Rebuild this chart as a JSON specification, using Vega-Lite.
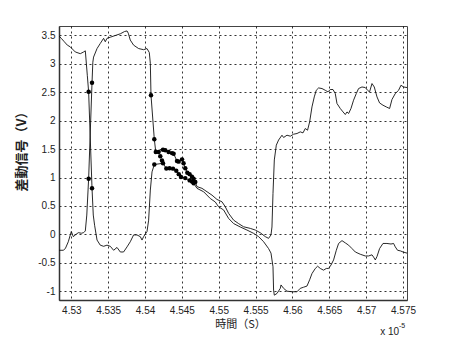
{
  "$schema": "https://vega.github.io/schema/vega-lite/v6.json",
  "width": 348,
  "height": 274,
  "autosize": {"type": "none"},
  "padding": {"left": 59, "top": 26, "right": 43, "bottom": 38},
  "background": "white",
  "config": {
    "view": {"stroke": "#444", "strokeWidth": 1},
    "axis": {
      "grid": true,
      "gridColor": "#000",
      "gridDash": [2, 3],
      "gridWidth": 1,
      "gridOpacity": 0.8,
      "domainColor": "#333",
      "domainWidth": 1.5,
      "ticks": false,
      "labelFont": "Liberation Sans",
      "labelFontSize": 10,
      "labelColor": "#222",
      "labelOverlap": false,
      "titleFont": "Noto Sans CJK JP",
      "titleFontSize": 11,
      "titleFontWeight": "normal",
      "titleColor": "#222",
      "labelExpr": "datum.value + ''"
    },
    "axisX": {
      "values": [4.53, 4.535, 4.54, 4.545, 4.55, 4.555, 4.56, 4.565, 4.57, 4.575],
      "labelPadding": 5,
      "titlePadding": 3,
      "titleX": 181
    },
    "axisY": {
      "values": [-1, -0.5, 0, 0.5, 1, 1.5, 2, 2.5, 3, 3.5],
      "labelPadding": 4,
      "titlePadding": 9,
      "titleY": 122,
      "titleFontSize": 13,
      "titleFontWeight": "bold"
    }
  },
  "datasets": {
    "lines": [
      {"s":"A","t":4.52833,"v":3.49},{"s":"A","t":4.52864,"v":3.45},{"s":"A","t":4.52905,"v":3.39},{"s":"A","t":4.52946,"v":3.33},{"s":"A","t":4.52986,"v":3.30},{"s":"A","t":4.53054,"v":3.21},{"s":"A","t":4.53122,"v":3.18},{"s":"A","t":4.53167,"v":3.21},{"s":"A","t":4.53190,"v":3.23},{"s":"A","t":4.53217,"v":2.80},{"s":"A","t":4.53235,"v":2.51},{"s":"A","t":4.53281,"v":0.81},{"s":"A","t":4.53298,"v":0.34},{"s":"A","t":4.53316,"v":0.16},{"s":"A","t":4.53349,"v":-0.10},{"s":"A","t":4.53393,"v":-0.19},{"s":"A","t":4.53438,"v":-0.21},{"s":"A","t":4.53484,"v":-0.19},{"s":"A","t":4.53529,"v":-0.21},{"s":"A","t":4.53574,"v":-0.28},{"s":"A","t":4.53620,"v":-0.23},{"s":"A","t":4.53665,"v":-0.31},{"s":"A","t":4.53709,"v":-0.31},{"s":"A","t":4.53756,"v":-0.22},{"s":"A","t":4.53800,"v":-0.13},{"s":"A","t":4.53845,"v":-0.01},{"s":"A","t":4.53891,"v":-0.01},{"s":"A","t":4.53936,"v":-0.04},{"s":"A","t":4.53959,"v":-0.10},{"s":"A","t":4.53981,"v":-0.04},{"s":"A","t":4.54027,"v":0.05},{"s":"A","t":4.54049,"v":0.25},{"s":"A","t":4.54072,"v":0.78},{"s":"A","t":4.54095,"v":1.10},{"s":"A","t":4.54126,"v":1.23},{"s":"A","t":4.54244,"v":1.25},{"s":"A","t":4.54289,"v":1.16},{"s":"A","t":4.54333,"v":1.165},{"s":"A","t":4.54380,"v":1.157},{"s":"A","t":4.54424,"v":1.12},{"s":"A","t":4.54458,"v":1.06},{"s":"A","t":4.54488,"v":1.01},{"s":"A","t":4.54546,"v":0.99},{"s":"A","t":4.54605,"v":0.95},{"s":"A","t":4.54637,"v":0.93},{"s":"A","t":4.54659,"v":0.90},{"s":"A","t":4.54705,"v":0.81},{"s":"A","t":4.54795,"v":0.75},{"s":"A","t":4.54886,"v":0.63},{"s":"A","t":4.54953,"v":0.57},{"s":"A","t":4.54998,"v":0.485},{"s":"A","t":4.55066,"v":0.43},{"s":"A","t":4.55134,"v":0.28},{"s":"A","t":4.55202,"v":0.19},{"s":"A","t":4.55292,"v":0.13},{"s":"A","t":4.55383,"v":0.076},{"s":"A","t":4.55473,"v":0.018},{"s":"A","t":4.55541,"v":-0.04},{"s":"A","t":4.55609,"v":-0.13},{"s":"A","t":4.55676,"v":-0.25},{"s":"A","t":4.55709,"v":-0.33},{"s":"A","t":4.55736,"v":-0.57},{"s":"A","t":4.55744,"v":-0.98},{"s":"A","t":4.55754,"v":-1.07},{"s":"A","t":4.55790,"v":-1.04},{"s":"A","t":4.55835,"v":-0.95},{"s":"A","t":4.55845,"v":-0.89},{"s":"A","t":4.55880,"v":-0.95},{"s":"A","t":4.55926,"v":-1.0},{"s":"A","t":4.55994,"v":-1.01},{"s":"A","t":4.56062,"v":-1.01},{"s":"A","t":4.56106,"v":-0.95},{"s":"A","t":4.56151,"v":-0.93},{"s":"A","t":4.56197,"v":-0.91},{"s":"A","t":4.56233,"v":-0.80},{"s":"A","t":4.56265,"v":-0.69},{"s":"A","t":4.56310,"v":-0.60},{"s":"A","t":4.56341,"v":-0.56},{"s":"A","t":4.56378,"v":-0.60},{"s":"A","t":4.56422,"v":-0.63},{"s":"A","t":4.56459,"v":-0.60},{"s":"A","t":4.56490,"v":-0.60},{"s":"A","t":4.56523,"v":-0.54},{"s":"A","t":4.56558,"v":-0.45},{"s":"A","t":4.56595,"v":-0.28},{"s":"A","t":4.56626,"v":-0.16},{"s":"A","t":4.56672,"v":-0.11},{"s":"A","t":4.56717,"v":-0.15},{"s":"A","t":4.56762,"v":-0.19},{"s":"A","t":4.56808,"v":-0.25},{"s":"A","t":4.56853,"v":-0.31},{"s":"A","t":4.56920,"v":-0.35},{"s":"A","t":4.56988,"v":-0.38},{"s":"A","t":4.57033,"v":-0.38},{"s":"A","t":4.57079,"v":-0.36},{"s":"A","t":4.57101,"v":-0.40},{"s":"A","t":4.57124,"v":-0.45},{"s":"A","t":4.57147,"v":-0.39},{"s":"A","t":4.57182,"v":-0.25},{"s":"A","t":4.57228,"v":-0.16},{"s":"A","t":4.57282,"v":-0.16},{"s":"A","t":4.57337,"v":-0.17},{"s":"A","t":4.57372,"v":-0.16},{"s":"A","t":4.57395,"v":-0.22},{"s":"A","t":4.57426,"v":-0.28},{"s":"A","t":4.57463,"v":-0.29},{"s":"A","t":4.57500,"v":-0.31},{"s":"A","t":4.57554,"v":-0.33},
      {"s":"B","t":4.52833,"v":-0.28},{"s":"B","t":4.52891,"v":-0.28},{"s":"B","t":4.52919,"v":-0.25},{"s":"B","t":4.52959,"v":-0.13},{"s":"B","t":4.53000,"v":0.05},{"s":"B","t":4.53027,"v":-0.04},{"s":"B","t":4.53054,"v":-0.01},{"s":"B","t":4.53095,"v":0.03},{"s":"B","t":4.53136,"v":0.02},{"s":"B","t":4.53167,"v":0.03},{"s":"B","t":4.53190,"v":0.06},{"s":"B","t":4.53210,"v":0.34},{"s":"B","t":4.53235,"v":0.98},{"s":"B","t":4.53281,"v":2.67},{"s":"B","t":4.53292,"v":3.03},{"s":"B","t":4.53302,"v":3.12},{"s":"B","t":4.53349,"v":3.27},{"s":"B","t":4.53393,"v":3.36},{"s":"B","t":4.53438,"v":3.45},{"s":"B","t":4.53461,"v":3.39},{"s":"B","t":4.53484,"v":3.45},{"s":"B","t":4.53529,"v":3.47},{"s":"B","t":4.53597,"v":3.50},{"s":"B","t":4.53665,"v":3.53},{"s":"B","t":4.53723,"v":3.57},{"s":"B","t":4.53756,"v":3.58},{"s":"B","t":4.53773,"v":3.54},{"s":"B","t":4.53800,"v":3.42},{"s":"B","t":4.53845,"v":3.33},{"s":"B","t":4.53913,"v":3.27},{"s":"B","t":4.53981,"v":3.25},{"s":"B","t":4.54027,"v":3.27},{"s":"B","t":4.54058,"v":3.20},{"s":"B","t":4.54072,"v":3.01},{"s":"B","t":4.54081,"v":2.45},{"s":"B","t":4.54126,"v":1.675},{"s":"B","t":4.54146,"v":1.45},{"s":"B","t":4.54184,"v":1.45},{"s":"B","t":4.54244,"v":1.49},{"s":"B","t":4.54275,"v":1.48},{"s":"B","t":4.54320,"v":1.45},{"s":"B","t":4.54366,"v":1.43},{"s":"B","t":4.54388,"v":1.42},{"s":"B","t":4.54434,"v":1.29},{"s":"B","t":4.54456,"v":1.28},{"s":"B","t":4.54502,"v":1.32},{"s":"B","t":4.54523,"v":1.25},{"s":"B","t":4.54546,"v":1.165},{"s":"B","t":4.54574,"v":1.086},{"s":"B","t":4.54605,"v":1.06},{"s":"B","t":4.54637,"v":1.016},{"s":"B","t":4.54659,"v":0.98},{"s":"B","t":4.54682,"v":0.92},{"s":"B","t":4.54705,"v":0.84},{"s":"B","t":4.54773,"v":0.81},{"s":"B","t":4.54841,"v":0.75},{"s":"B","t":4.54909,"v":0.69},{"s":"B","t":4.54976,"v":0.615},{"s":"B","t":4.55044,"v":0.573},{"s":"B","t":4.55089,"v":0.485},{"s":"B","t":4.55134,"v":0.37},{"s":"B","t":4.55202,"v":0.25},{"s":"B","t":4.55269,"v":0.19},{"s":"B","t":4.55337,"v":0.134},{"s":"B","t":4.55428,"v":0.105},{"s":"B","t":4.55496,"v":0.076},{"s":"B","t":4.55564,"v":0.028},{"s":"B","t":4.55632,"v":-0.04},{"s":"B","t":4.55676,"v":-0.07},{"s":"B","t":4.55709,"v":-0.01},{"s":"B","t":4.55722,"v":0.13},{"s":"B","t":4.55736,"v":0.72},{"s":"B","t":4.55754,"v":1.31},{"s":"B","t":4.55781,"v":1.57},{"s":"B","t":4.55812,"v":1.66},{"s":"B","t":4.55858,"v":1.745},{"s":"B","t":4.55880,"v":1.705},{"s":"B","t":4.55926,"v":1.745},{"s":"B","t":4.55971,"v":1.728},{"s":"B","t":4.56016,"v":1.763},{"s":"B","t":4.56062,"v":1.775},{"s":"B","t":4.56106,"v":1.804},{"s":"B","t":4.56143,"v":1.786},{"s":"B","t":4.56174,"v":1.863},{"s":"B","t":4.56205,"v":1.833},{"s":"B","t":4.56233,"v":1.979},{"s":"B","t":4.56265,"v":2.243},{"s":"B","t":4.56296,"v":2.419},{"s":"B","t":4.56323,"v":2.536},{"s":"B","t":4.56355,"v":2.577},{"s":"B","t":4.56401,"v":2.566},{"s":"B","t":4.56445,"v":2.536},{"s":"B","t":4.56482,"v":2.507},{"s":"B","t":4.56513,"v":2.549},{"s":"B","t":4.56550,"v":2.549},{"s":"B","t":4.56581,"v":2.478},{"s":"B","t":4.56604,"v":2.303},{"s":"B","t":4.56649,"v":2.215},{"s":"B","t":4.56686,"v":2.155},{"s":"B","t":4.56717,"v":2.109},{"s":"B","t":4.56740,"v":2.155},{"s":"B","t":4.56762,"v":2.127},{"s":"B","t":4.56794,"v":2.215},{"s":"B","t":4.56829,"v":2.361},{"s":"B","t":4.56866,"v":2.478},{"s":"B","t":4.56897,"v":2.566},{"s":"B","t":4.56943,"v":2.594},{"s":"B","t":4.56988,"v":2.584},{"s":"B","t":4.57019,"v":2.536},{"s":"B","t":4.57046,"v":2.507},{"s":"B","t":4.57079,"v":2.654},{"s":"B","t":4.57110,"v":2.594},{"s":"B","t":4.57147,"v":2.419},{"s":"B","t":4.57182,"v":2.313},{"s":"B","t":4.57228,"v":2.273},{"s":"B","t":4.57273,"v":2.243},{"s":"B","t":4.57318,"v":2.215},{"s":"B","t":4.57350,"v":2.373},{"s":"B","t":4.57395,"v":2.478},{"s":"B","t":4.57440,"v":2.536},{"s":"B","t":4.57472,"v":2.624},{"s":"B","t":4.57508,"v":2.594},{"s":"B","t":4.57554,"v":2.584}
    ],
    "dots": [
      {"t":4.53235,"v":2.51},{"t":4.53281,"v":2.67},{"t":4.53235,"v":0.98},{"t":4.53281,"v":0.81},
      {"t":4.54081,"v":2.45},{"t":4.54126,"v":1.675},{"t":4.54146,"v":1.45},{"t":4.54126,"v":1.23},
      {"t":4.54184,"v":1.45},{"t":4.54207,"v":1.376},{"t":4.54244,"v":1.49},{"t":4.54275,"v":1.48},{"t":4.54320,"v":1.45},{"t":4.54366,"v":1.43},{"t":4.54388,"v":1.42},{"t":4.54434,"v":1.29},{"t":4.54456,"v":1.28},{"t":4.54502,"v":1.32},{"t":4.54523,"v":1.25},{"t":4.54546,"v":1.165},{"t":4.54574,"v":1.086},{"t":4.54605,"v":1.06},{"t":4.54637,"v":1.016},{"t":4.54659,"v":0.98},{"t":4.54682,"v":0.92},
      {"t":4.54230,"v":1.30},{"t":4.54244,"v":1.25},{"t":4.54289,"v":1.16},{"t":4.54333,"v":1.165},{"t":4.54380,"v":1.157},{"t":4.54424,"v":1.12},{"t":4.54458,"v":1.06},{"t":4.54488,"v":1.01},{"t":4.54546,"v":0.99},{"t":4.54605,"v":0.95},{"t":4.54637,"v":0.93},{"t":4.54659,"v":0.90}
    ],
    "mult": [{"label": "x 10"}],
    "expo": [{"label": "-5"}]
  },
  "layer": [
    {
      "data": {"name": "lines"},
      "mark": {"type": "line", "color": "#111", "strokeWidth": 0.9, "clip": true},
      "encoding": {
        "x": {
          "field": "t", "type": "quantitative",
          "scale": {"domain": [4.52833, 4.57554], "nice": false, "zero": false},
          "title": "時間（S）"
        },
        "y": {
          "field": "v", "type": "quantitative",
          "scale": {"domain": [-1.155, 3.667], "nice": false, "zero": false},
          "title": "差動信号（V）"
        },
        "detail": {"field": "s"}
      }
    },
    {
      "data": {"name": "dots"},
      "mark": {"type": "circle", "color": "#000", "size": 20, "opacity": 1},
      "encoding": {
        "x": {"field": "t", "type": "quantitative", "title": "時間（S）"},
        "y": {"field": "v", "type": "quantitative", "title": "差動信号（V）"}
      }
    },
    {
      "data": {"name": "mult"},
      "mark": {"type": "text", "font": "Liberation Sans", "fontSize": 10, "color": "#222", "align": "left", "baseline": "middle"},
      "encoding": {
        "x": {"datum": 4.5719, "type": "quantitative", "title": "時間（S）"},
        "y": {"datum": -1.72, "type": "quantitative", "title": "差動信号（V）"},
        "text": {"field": "label"}
      }
    },
    {
      "data": {"name": "expo"},
      "mark": {"type": "text", "font": "Liberation Sans", "fontSize": 7, "color": "#222", "align": "left", "baseline": "middle"},
      "encoding": {
        "x": {"datum": 4.57445, "type": "quantitative", "title": "時間（S）"},
        "y": {"datum": -1.61, "type": "quantitative", "title": "差動信号（V）"},
        "text": {"field": "label"}
      }
    }
  ]
}
